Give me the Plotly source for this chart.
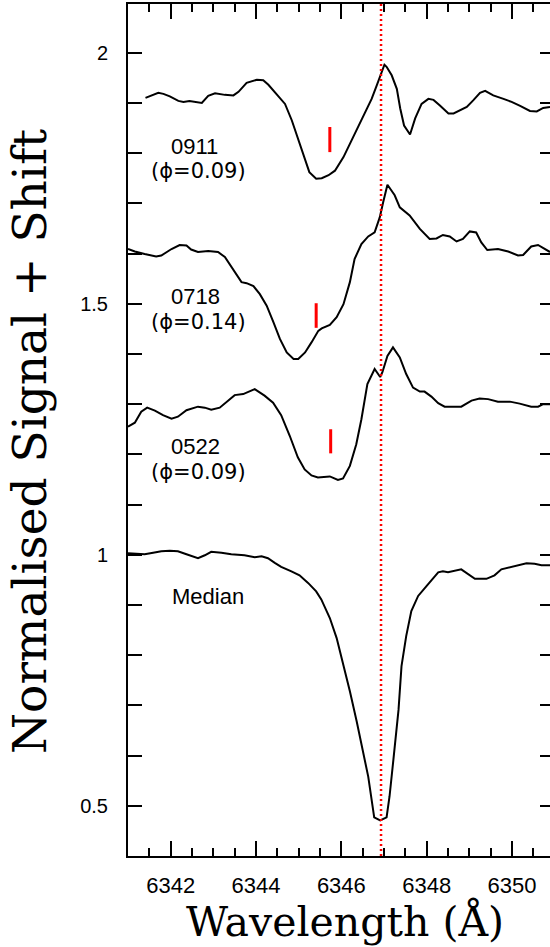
import plotly.graph_objects as go

# ---------------- data ----------------
wl_0911 = [6341.41, 6341.55, 6341.71, 6341.83, 6341.98, 6342.18, 6342.30, 6342.44, 6342.57, 6342.73,
           6342.88, 6343.04, 6343.27, 6343.47, 6343.59, 6343.78, 6344.02, 6344.17, 6344.29, 6344.48,
           6344.68, 6344.84, 6345.03, 6345.25, 6345.41, 6345.54, 6345.70, 6345.85, 6346.05, 6346.24,
           6346.48, 6346.71, 6346.83, 6346.95, 6347.01, 6347.06, 6347.18, 6347.30, 6347.38, 6347.47,
           6347.61, 6347.73, 6347.88, 6348.04, 6348.16, 6348.31, 6348.51, 6348.63, 6348.78, 6348.94,
           6349.09, 6349.25, 6349.37, 6349.56, 6349.80, 6349.99, 6350.19, 6350.42, 6350.58, 6350.73,
           6350.89]
fl_0911 = [1.910, 1.914, 1.920, 1.918, 1.913, 1.904, 1.902, 1.904, 1.902, 1.900,
           1.914, 1.919, 1.916, 1.915, 1.922, 1.940, 1.946, 1.945, 1.936, 1.917,
           1.898, 1.865, 1.815, 1.762, 1.749, 1.750, 1.756, 1.765, 1.792, 1.825,
           1.869, 1.908, 1.935, 1.965, 1.976, 1.972, 1.955, 1.928, 1.889, 1.855,
           1.837, 1.869, 1.898, 1.908, 1.906, 1.895, 1.879, 1.879, 1.885, 1.892,
           1.905, 1.920, 1.924, 1.915, 1.908, 1.902, 1.894, 1.884, 1.883, 1.890,
           1.892]

wl_0718 = [6341.00, 6341.16, 6341.39, 6341.66, 6341.78, 6342.02, 6342.21, 6342.37, 6342.48, 6342.64,
           6342.88, 6343.11, 6343.27, 6343.42, 6343.58, 6343.66, 6343.78, 6343.94, 6344.09, 6344.25,
           6344.41, 6344.56, 6344.72, 6344.88, 6344.99, 6345.15, 6345.30, 6345.46, 6345.54, 6345.73,
           6345.89, 6346.05, 6346.20, 6346.31, 6346.47, 6346.63, 6346.78, 6346.90, 6346.98, 6347.08,
           6347.17, 6347.25, 6347.37, 6347.60, 6347.84, 6348.07, 6348.23, 6348.38, 6348.54, 6348.70,
           6348.85, 6349.01, 6349.16, 6349.28, 6349.42, 6349.67, 6349.91, 6350.14, 6350.26, 6350.45,
           6350.61, 6350.77, 6350.89]
fl_0718 = [1.609, 1.604, 1.599, 1.594, 1.596, 1.609, 1.617, 1.616, 1.608, 1.603,
           1.605, 1.603, 1.593, 1.573, 1.553, 1.543, 1.541, 1.535, 1.519, 1.496,
           1.463, 1.430, 1.403, 1.390, 1.390, 1.403, 1.423, 1.446, 1.451, 1.458,
           1.473, 1.499, 1.543, 1.589, 1.619, 1.634, 1.642, 1.672, 1.702, 1.737,
           1.726, 1.716, 1.692, 1.676, 1.649, 1.629, 1.630, 1.637, 1.634, 1.624,
           1.629, 1.644, 1.642, 1.622, 1.607, 1.609, 1.604, 1.596, 1.597, 1.614,
           1.617, 1.609, 1.603]

wl_0522 = [6341.00, 6341.16, 6341.31, 6341.45, 6341.63, 6341.82, 6342.02, 6342.17, 6342.37, 6342.64,
           6342.80, 6342.95, 6343.15, 6343.34, 6343.50, 6343.70, 6343.97, 6344.20, 6344.40, 6344.59,
           6344.79, 6344.98, 6345.14, 6345.30, 6345.45, 6345.73, 6345.92, 6346.04, 6346.20, 6346.35,
           6346.47, 6346.61, 6346.78, 6346.91, 6346.96, 6347.08, 6347.21, 6347.37, 6347.52, 6347.68,
           6347.84, 6347.95, 6348.11, 6348.27, 6348.42, 6348.81, 6349.05, 6349.24, 6349.44, 6349.67,
           6349.95, 6350.18, 6350.45, 6350.61, 6350.73, 6350.89]
fl_0522 = [1.255, 1.263, 1.285, 1.293, 1.287, 1.278, 1.271, 1.275, 1.288, 1.295,
           1.293, 1.289, 1.293, 1.307, 1.318, 1.320, 1.330, 1.317, 1.303, 1.278,
           1.237, 1.194, 1.170, 1.158, 1.154, 1.156, 1.149, 1.152, 1.177, 1.220,
           1.270, 1.340, 1.370, 1.354, 1.363, 1.396, 1.413, 1.393, 1.360, 1.333,
           1.325, 1.325, 1.315, 1.302, 1.295, 1.295, 1.307, 1.311, 1.310, 1.305,
           1.305, 1.301, 1.295, 1.295, 1.300, 1.300]

wl_median = [6341.00, 6341.39, 6341.59, 6341.78, 6341.98, 6342.17, 6342.37, 6342.64, 6342.80, 6342.95,
             6343.19, 6343.42, 6343.73, 6343.97, 6344.13, 6344.28, 6344.44, 6344.59, 6344.83, 6345.02,
             6345.22, 6345.41, 6345.53, 6345.62, 6345.73, 6345.89, 6346.05, 6346.20, 6346.36, 6346.52,
             6346.63, 6346.77, 6346.91, 6347.06, 6347.13, 6347.22, 6347.34, 6347.41, 6347.52, 6347.64,
             6347.80, 6347.99, 6348.27, 6348.38, 6348.50, 6348.81, 6348.97, 6349.13, 6349.40, 6349.59,
             6349.75, 6349.95, 6350.10, 6350.34, 6350.53, 6350.69, 6350.89]
fl_median = [1.003, 1.001, 1.004, 1.007, 1.008, 1.007, 1.001, 0.993, 0.999, 1.006,
             1.004, 1.001, 0.999, 0.995, 0.997, 0.993, 0.984, 0.976, 0.967, 0.959,
             0.944, 0.927, 0.911, 0.894, 0.874, 0.834, 0.781, 0.728, 0.668, 0.605,
             0.558, 0.477, 0.471, 0.477, 0.519, 0.592, 0.691, 0.778, 0.838, 0.888,
             0.918, 0.937, 0.965, 0.967, 0.965, 0.971, 0.961, 0.952, 0.952, 0.959,
             0.971, 0.975, 0.977, 0.983, 0.982, 0.979, 0.979]

# red tick marks: wavelength and (bottom, top) flux of each mark
mark_wl = [6345.73, 6345.41, 6345.75]
mark_lo = [1.802, 1.452, 1.202]
mark_hi = [1.852, 1.501, 1.250]

rest_wl = 6346.93          # red dotted reference line

labels = ["0911", "0718", "0522", "Median"]
phases = ["(\u03d5=0.09)", "(\u03d5=0.14)", "(\u03d5=0.09)"]

x_range = [6341.0, 6350.89]
y_range = [0.4, 2.097]

# ---------------- figure ----------------
fig = go.Figure()
black = dict(color="black", width=2)
for wl, fl in [(wl_0911, fl_0911), (wl_0718, fl_0718), (wl_0522, fl_0522), (wl_median, fl_median)]:
    fig.add_trace(go.Scatter(x=wl, y=fl, mode="lines", line=black, showlegend=False, hoverinfo="skip"))

for w, lo, hi in zip(mark_wl, mark_lo, mark_hi):
    fig.add_trace(go.Scatter(x=[w, w], y=[lo, hi], mode="lines",
                             line=dict(color="#ff0000", width=3), showlegend=False, hoverinfo="skip"))

fig.add_trace(go.Scatter(x=[rest_wl, rest_wl], y=y_range, mode="lines",
                         line=dict(color="#ff0000", width=2.5, dash="2px,3px"),
                         showlegend=False, hoverinfo="skip"))

# empty trace for right-hand tick axis
fig.add_trace(go.Scatter(x=[], y=[], yaxis="y2", showlegend=False, hoverinfo="skip"))

sans = "Liberation Sans, Arial, sans-serif"
label_pos = [(6342.57, 1.814), (6342.59, 1.514), (6342.59, 1.215), (6342.87, 0.917)]
for txt, (x, y) in zip(labels, label_pos):
    fig.add_annotation(x=x, y=y, text=txt, showarrow=False, xanchor="center", yanchor="middle",
                       font=dict(family=sans, size=22, color="black"))
phase_pos = [(6342.65, 1.764), (6342.65, 1.464), (6342.65, 1.165)]
for txt, (x, y) in zip(phases, phase_pos):
    fig.add_annotation(x=x, y=y, text=txt, showarrow=False, xanchor="center", yanchor="middle",
                       font=dict(family="DejaVu Sans, sans-serif", size=21, color="black"))

serif = "DejaVu Serif, Liberation Serif, serif"
fig.add_annotation(xref="paper", yref="paper", x=0.514, y=-0.0763, text="Wavelength (\u00c5)",
                   showarrow=False, xanchor="center", yanchor="middle",
                   font=dict(family=serif, size=41, color="black"))
fig.add_annotation(xref="paper", yref="paper", x=-0.232, y=0.486, text="Normalised Signal + Shift",
                   textangle=-90, showarrow=False, xanchor="center", yanchor="middle",
                   font=dict(family=serif, size=47, color="black"))

fig.update_layout(
    width=550, height=947,
    margin=dict(l=128, r=0, t=4, b=91),
    paper_bgcolor="white", plot_bgcolor="white",
    xaxis=dict(range=x_range, showgrid=False, zeroline=False,
               showline=True, linecolor="black", linewidth=2, mirror="ticks",
               ticks="inside", ticklen=15, tickwidth=2, tickcolor="black",
               tick0=6342, dtick=2, ticklabelstandoff=9,
               minor=dict(ticks="inside", dtick=0.5, ticklen=8, tickwidth=2, tickcolor="black", showgrid=False),
               tickfont=dict(family=sans, size=22, color="black")),
    yaxis=dict(range=y_range, showgrid=False, zeroline=False,
               showline=True, linecolor="black", linewidth=2,
               ticks="inside", ticklen=14, tickwidth=2, tickcolor="black",
               tickvals=[0.5, 1.0, 1.5, 2.0], ticktext=["0.5", "1", "1.5", "2"],
               ticklabelstandoff=14,
               minor=dict(ticks="inside", dtick=0.1, tick0=0.4, ticklen=14, tickwidth=2, tickcolor="black", showgrid=False),
               tickfont=dict(family=sans, size=20, color="black")),
    yaxis2=dict(range=y_range, overlaying="y", side="right", anchor="x",
                showgrid=False, zeroline=False, showline=False, showticklabels=False,
                ticks="inside", ticklen=10, tickwidth=2, tickcolor="black", dtick=0.5, tick0=0.5,
                minor=dict(ticks="inside", dtick=0.1, tick0=0.4, ticklen=10, tickwidth=2, tickcolor="black", showgrid=False)),
)

fig.write_html("out.html")
